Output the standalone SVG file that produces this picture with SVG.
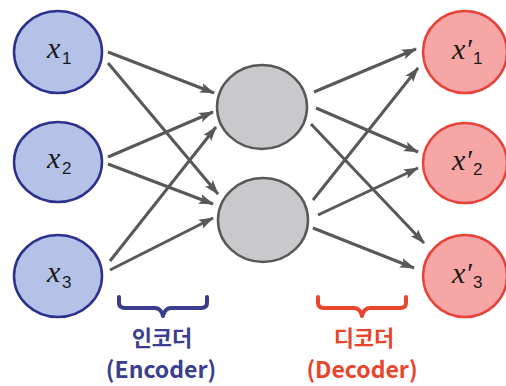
<svg xmlns="http://www.w3.org/2000/svg" width="506" height="386" viewBox="0 0 506 386">
  <style>
    .in { fill: #b3c2e6; stroke: #2e318c; stroke-width: 2.5; }
    .hid { fill: #c9c9cb; stroke: #58585a; stroke-width: 2.5; }
    .out { fill: #f7a6a6; stroke: #e8413a; stroke-width: 2.5; }
    .edge { stroke: #58585a; stroke-width: 3; fill: none; marker-end: url(#arrow); }
    .var { font-family: "Liberation Serif", serif; font-style: italic; font-size: 30px; fill: #1a1a1a; }
    .sub { font-family: "Liberation Sans", "DejaVu Sans", sans-serif; font-style: normal; font-size: 17px; }
    .cap { font-family: "Noto Sans CJK KR", "Noto Sans", sans-serif; font-weight: bold; text-anchor: middle; }
    .enc { fill: #3b3d8f; }
    .dec { fill: #e8452c; }
    .brace { fill: none; stroke-width: 4; stroke-linecap: round; stroke-linejoin: round; }
  </style>
  <defs>
    <marker id="arrow" markerUnits="userSpaceOnUse" markerWidth="15" markerHeight="11" refX="14" refY="5.5" orient="auto">
      <path d="M0,0.5 L15,5.5 L0,10.5 L3,5.5 Z" fill="#58585a"/>
    </marker>
  </defs>

  <!-- connectors -->
  <g id="connectors">
    <!-- encoder -->
    <line class="edge" x1="108" y1="52" x2="214" y2="93"/>
    <line class="edge" x1="108" y1="63" x2="218" y2="194"/>
    <line class="edge" x1="108" y1="157" x2="213" y2="112"/>
    <line class="edge" x1="108" y1="164" x2="213" y2="204"/>
    <line class="edge" x1="110" y1="261" x2="216" y2="127"/>
    <line class="edge" x1="110" y1="270" x2="213" y2="218"/>
    <!-- decoder -->
    <line class="edge" x1="314" y1="92" x2="416" y2="49"/>
    <line class="edge" x1="316" y1="108" x2="418" y2="152"/>
    <line class="edge" x1="311" y1="124" x2="424" y2="243"/>
    <line class="edge" x1="313" y1="200" x2="418" y2="68"/>
    <line class="edge" x1="318" y1="215" x2="418" y2="168"/>
    <line class="edge" x1="313" y1="228" x2="414" y2="268"/>
  </g>

  <!-- input layer -->
  <g id="x1">
    <ellipse class="in" cx="58" cy="52" rx="44" ry="41"/>
    <text class="var" x="47" y="58">x<tspan class="sub" x="62" y="64">1</tspan></text>
  </g>
  <g id="x2">
    <ellipse class="in" cx="58" cy="162" rx="44" ry="40"/>
    <text class="var" x="47" y="168">x<tspan class="sub" x="62" y="174">2</tspan></text>
  </g>
  <g id="x3">
    <ellipse class="in" cx="58" cy="276" rx="44" ry="41"/>
    <text class="var" x="47" y="282">x<tspan class="sub" x="62" y="288">3</tspan></text>
  </g>

  <!-- hidden layer -->
  <g id="h1">
    <ellipse class="hid" cx="262" cy="107" rx="45" ry="42"/>
  </g>
  <g id="h2">
    <ellipse class="hid" cx="263" cy="220" rx="45" ry="42"/>
  </g>

  <!-- output layer -->
  <g id="y1">
    <ellipse class="out" cx="465" cy="52" rx="42" ry="41"/>
    <text class="var" x="452" y="59">x′<tspan class="sub" x="473" y="64">1</tspan></text>
  </g>
  <g id="y2">
    <ellipse class="out" cx="465" cy="163" rx="42" ry="40"/>
    <text class="var" x="452" y="170">x′<tspan class="sub" x="473" y="175">2</tspan></text>
  </g>
  <g id="y3">
    <ellipse class="out" cx="465" cy="276" rx="42" ry="41"/>
    <text class="var" x="452" y="283">x′<tspan class="sub" x="473" y="288">3</tspan></text>
  </g>

  <!-- encoder label -->
  <g id="encoder">
    <path class="brace" stroke="#3b3d8f" d="M119,297 V303 Q119,308 125,308 H155 Q161,308 163,316 Q165,308 171,308 H201 Q207,308 207,303 V297"/>
    <text class="cap enc" x="162" y="346" font-size="22">인코더</text>
    <text class="cap enc" x="161" y="378" font-size="23">(Encoder)</text>
  </g>

  <!-- decoder label -->
  <g id="decoder">
    <path class="brace" stroke="#e8452c" d="M318,297 V303 Q318,308 324,308 H354 Q360,308 362,316 Q364,308 370,308 H400 Q406,308 406,303 V297"/>
    <text class="cap dec" x="364" y="346" font-size="22">디코더</text>
    <text class="cap dec" x="362" y="378" font-size="23">(Decoder)</text>
  </g>
</svg>
